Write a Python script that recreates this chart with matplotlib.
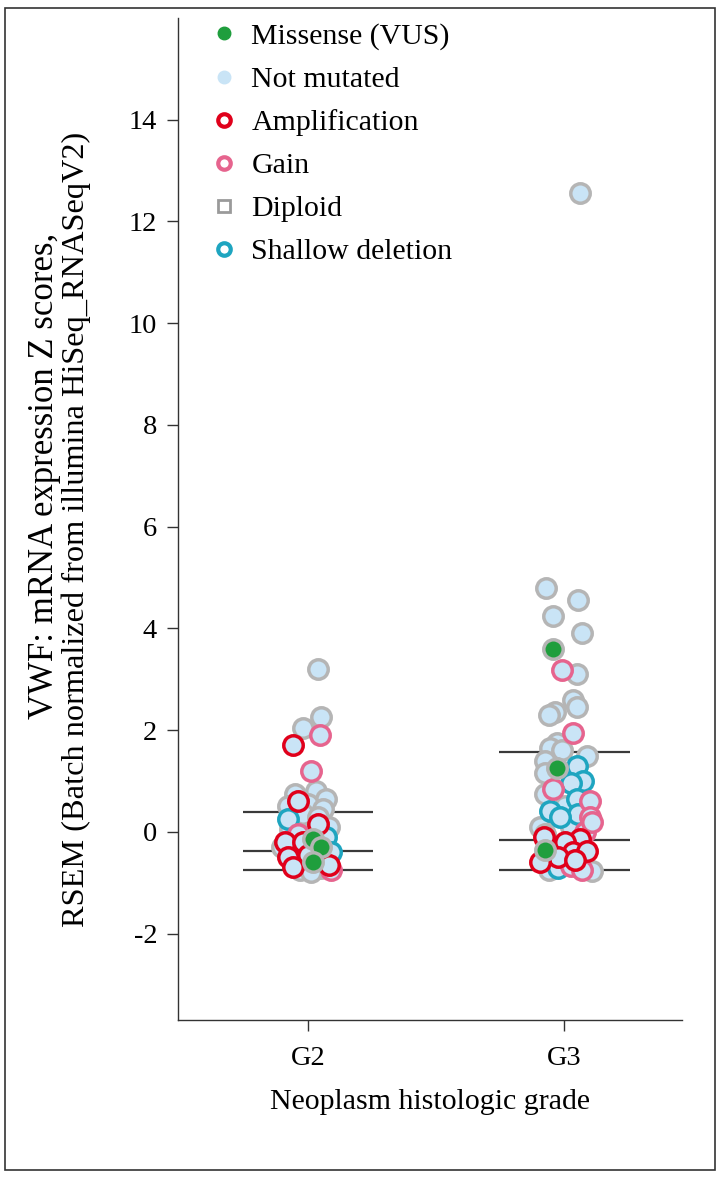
import numpy as np
import matplotlib.pyplot as plt
from matplotlib.lines import Line2D
from matplotlib.patches import Rectangle

plt.rcParams['font.family'] = ['Liberation Serif', 'DejaVu Serif']
plt.rcParams['axes.unicode_minus'] = False

GROUPS = ['G2', 'G3']

# G2 samples: z score, jitter, copy number, missense flag
g2_z = [3.2, 2.25, 2.05, 1.9, 1.7, 1.2, 0.75, 0.8, 0.65, 0.6, 0.55, 0.45, 0.35, 0.25,
        0.3, 0.15, 0.1, 0.05, 0.0, -0.05, -0.1, -0.2, -0.2, -0.15, -0.3, -0.4, -0.35,
        -0.45, -0.5, -0.55, -0.6, -0.65, -0.7, -0.72, -0.75, -0.8, -0.75, -0.3, 0.5]
g2_jitter = [0.04, 0.05, -0.02, 0.045, -0.06, 0.01, -0.05, 0.03, 0.07, -0.04, 0.0, 0.06,
             -0.02, -0.08, 0.04, 0.04, 0.08, -0.07, 0.02, -0.04, 0.07, -0.09, -0.02, 0.02,
             0.05, 0.09, -0.06, 0.0, -0.08, -0.02, 0.02, 0.08, -0.06, 0.05, -0.03, 0.01,
             0.09, -0.1, -0.08]
g2_cna = ['diploid', 'diploid', 'diploid', 'gain', 'amp', 'gain', 'diploid', 'diploid',
          'diploid', 'amp', 'diploid', 'diploid', 'diploid', 'shallow', 'diploid', 'amp',
          'diploid', 'diploid', 'diploid', 'gain', 'shallow', 'amp', 'amp', 'diploid',
          'diploid', 'shallow', 'diploid', 'amp', 'amp', 'diploid', 'diploid', 'amp',
          'amp', 'diploid', 'diploid', 'diploid', 'gain', 'diploid', 'diploid']
g2_missense = [False] * 23 + [True, True] + [False] * 5 + [True] + [False] * 8

# G3 samples
g3_z = [12.55, 4.8, 4.55, 4.25, 3.9, 3.6, 3.18, 3.1, 2.6, 2.45, 2.35, 2.3, 1.95, 1.75,
        1.65, 1.6, 1.5, 1.4, 1.3, 1.25, 1.15, 1.0, 0.95, 0.85, 0.75, 0.65, 0.6, 0.4,
        0.35, 0.3, 0.3, 0.1, 0.1, 0.0, -0.05, -0.1, -0.15, -0.2, -0.35, -0.4, -0.38,
        -0.5, -0.6, -0.55, -0.68, -0.75, -0.72, -0.75, -0.78, 0.2, -0.25, 0.5]
g3_jitter = [0.06, -0.07, 0.055, -0.045, 0.07, -0.043, -0.01, 0.05, 0.035, 0.05, -0.035,
             -0.06, 0.035, -0.03, -0.055, -0.01, 0.09, -0.075, 0.05, -0.03, -0.075, 0.075,
             0.025, -0.043, -0.075, 0.05, 0.1, -0.055, 0.055, -0.015, 0.1, -0.095, 0.025,
             0.08, -0.075, -0.08, 0.06, 0.005, -0.075, 0.035, 0.09, -0.025, -0.095, 0.043,
             0.025, 0.07, -0.025, -0.06, 0.11, 0.11, -0.055, 0.005]
g3_cna = ['diploid', 'diploid', 'diploid', 'diploid', 'diploid', 'diploid', 'gain',
          'diploid', 'diploid', 'diploid', 'diploid', 'diploid', 'gain', 'diploid',
          'diploid', 'diploid', 'diploid', 'diploid', 'shallow', 'diploid', 'diploid',
          'shallow', 'shallow', 'gain', 'diploid', 'shallow', 'gain', 'shallow', 'shallow',
          'shallow', 'gain', 'diploid', 'diploid', 'gain', 'diploid', 'amp', 'amp', 'amp',
          'diploid', 'amp', 'amp', 'amp', 'amp', 'amp', 'gain', 'gain', 'shallow',
          'diploid', 'diploid', 'gain', 'diploid', 'diploid']
g3_missense = [False] * 5 + [True] + [False] * 13 + [True] + [False] * 18 + [True] + [False] * 13

# quartile lines (upper, median, lower)
g2_quartiles = [0.39, -0.37, -0.75]
g3_quartiles = [1.57, -0.16, -0.75]

y_ticks = [-2, 0, 2, 4, 6, 8, 10, 12, 14]

FILL = '#c9e4f6'
MISSENSE = '#1f9e3d'
EDGE = {'amp': '#e0001b', 'gain': '#e6648e', 'diploid': '#b5b5b5', 'shallow': '#1ea5c0'}
DRAW_ORDER = ['diploid', 'shallow', 'gain', 'amp']

fig = plt.figure(figsize=(7.21, 11.78), dpi=100)
ax = fig.add_axes([178 / 721, 1 - 1020 / 1178, 504 / 721, 1002 / 1178])

groups = [(g2_z, g2_jitter, g2_cna, g2_missense, g2_quartiles),
          (g3_z, g3_jitter, g3_cna, g3_missense, g3_quartiles)]

for i, (z, jit, cna, mis, quart) in enumerate(groups):
    z = np.array(z)
    x = i + np.array(jit)
    cna = np.array(cna)
    mis = np.array(mis)
    ax.hlines(quart, i - 0.255, i + 0.255, color='#3a3a3a', lw=1.6, zorder=1)
    for c in DRAW_ORDER:
        m = (cna == c) & ~mis
        ax.scatter(x[m], z[m], s=14 ** 2, facecolor=FILL, edgecolor=EDGE[c],
                   linewidths=2.5, zorder=2)
    ax.scatter(x[mis], z[mis], s=14 ** 2, facecolor=MISSENSE, edgecolor=EDGE['diploid'],
               linewidths=2.5, zorder=3)

ax.set_xlim(-0.508, 1.46)
ax.set_ylim(-3.7, 16.0)
ax.set_xticks([0, 1])
ax.set_xticklabels(GROUPS)
ax.set_yticks(y_ticks)
ax.set_yticklabels([str(t) for t in y_ticks])
for s in ['top', 'right']:
    ax.spines[s].set_visible(False)
for s in ['left', 'bottom']:
    ax.spines[s].set_color('#333333')
    ax.spines[s].set_linewidth(1.0)
ax.tick_params(axis='both', length=8, width=1, color='#333333', labelsize=20.5)
ax.tick_params(axis='y', pad=7)
ax.tick_params(axis='x', pad=11)
ax.set_xlabel('Neoplasm histologic grade', fontsize=21.5, labelpad=13)

fig.text(45 / 721, 1 - 476 / 1178, 'VWF: mRNA expression Z scores,', rotation=90,
         ha='center', va='center', fontsize=25)
fig.text(76 / 721, 1 - 529 / 1178, 'RSEM (Batch normalized from illumina HiSeq_RNASeqV2)',
         rotation=90, ha='center', va='center', fontsize=23.3)

handles = [
    Line2D([], [], ls='', marker='o', markersize=9, mfc=MISSENSE, mec=MISSENSE),
    Line2D([], [], ls='', marker='o', markersize=9, mfc=FILL, mec=FILL),
    Line2D([], [], ls='', marker='o', markersize=9, mfc='white', mec=EDGE['amp'], mew=3),
    Line2D([], [], ls='', marker='o', markersize=9, mfc='white', mec=EDGE['gain'], mew=3),
    Line2D([], [], ls='', marker='s', markersize=8, mfc='white', mec='#9a9a9a', mew=2),
    Line2D([], [], ls='', marker='o', markersize=9, mfc='white', mec=EDGE['shallow'], mew=3),
]
labels = ['Missense (VUS)', 'Not mutated', 'Amplification', 'Gain', 'Diploid',
          'Shallow deletion']
ax.legend(handles, labels, loc='upper left', bbox_to_anchor=(0.045, 1.007), frameon=False,
          fontsize=21.5, handlelength=0.75, handletextpad=0.55, labelspacing=0.54,
          borderaxespad=0)

fig.add_artist(Rectangle((5 / 721, 8 / 1178), 710 / 721, 1162 / 1178,
                         transform=fig.transFigure, fill=False, lw=1.2, ec='#333333'))

fig.savefig('out.png', dpi=100)
